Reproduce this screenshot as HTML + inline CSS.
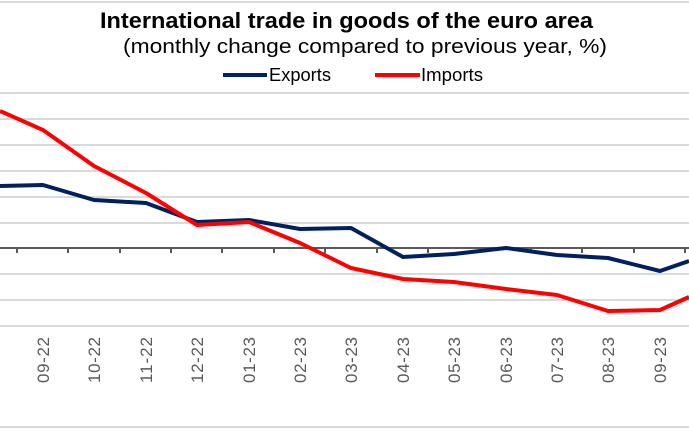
<!DOCTYPE html>
<html><head><meta charset="utf-8"><style>body{margin:0;background:#fff}</style></head><body>
<svg width="689" height="431" xmlns="http://www.w3.org/2000/svg" font-family="Liberation Sans, sans-serif">
<rect width="689" height="431" fill="#fff"/>
<line x1="0" y1="2" x2="689" y2="2" stroke="#d9d9d9" stroke-width="2"/>
<text x="100" y="28" font-size="22" font-weight="bold" textLength="493" lengthAdjust="spacingAndGlyphs">International trade in goods of the euro area</text>
<text x="123" y="53" font-size="20" textLength="484" lengthAdjust="spacingAndGlyphs">(monthly change compared to previous year, %)</text>
<line x1="223" y1="75" x2="267" y2="75" stroke="#002060" stroke-width="4"/>
<text x="269" y="81" font-size="18" textLength="62" lengthAdjust="spacingAndGlyphs">Exports</text>
<line x1="375" y1="75" x2="420" y2="75" stroke="#ff0000" stroke-width="4"/>
<text x="421" y="81" font-size="18" textLength="62" lengthAdjust="spacingAndGlyphs">Imports</text>
<g stroke="#d9d9d9" stroke-width="2">
<line x1="0" y1="93" x2="689" y2="93"/><line x1="0" y1="119" x2="689" y2="119"/><line x1="0" y1="145" x2="689" y2="145"/><line x1="0" y1="171" x2="689" y2="171"/><line x1="0" y1="197" x2="689" y2="197"/><line x1="0" y1="223" x2="689" y2="223"/><line x1="0" y1="274" x2="689" y2="274"/><line x1="0" y1="300" x2="689" y2="300"/><line x1="0" y1="326" x2="689" y2="326"/><line x1="0" y1="427" x2="689" y2="427"/>
</g>
<line x1="0" y1="248" x2="689" y2="248" stroke="#595959" stroke-width="2"/>
<g stroke="#595959" stroke-width="2">
<line x1="17" y1="248" x2="17" y2="253"/><line x1="68" y1="248" x2="68" y2="253"/><line x1="120" y1="248" x2="120" y2="253"/><line x1="171" y1="248" x2="171" y2="253"/><line x1="222" y1="248" x2="222" y2="253"/><line x1="274" y1="248" x2="274" y2="253"/><line x1="325" y1="248" x2="325" y2="253"/><line x1="377" y1="248" x2="377" y2="253"/><line x1="428" y1="248" x2="428" y2="253"/><line x1="480" y1="248" x2="480" y2="253"/><line x1="531" y1="248" x2="531" y2="253"/><line x1="582" y1="248" x2="582" y2="253"/><line x1="634" y1="248" x2="634" y2="253"/><line x1="685" y1="248" x2="685" y2="253"/>
</g>
<polyline fill="none" stroke="#002060" stroke-width="4" stroke-linejoin="round" points="0,186 43,185 94,200 146,203 197,222 249,220 300,229 351,228 403,257 454,254 506,248 557,255 608,258 660,271 689,261"/>
<polyline fill="none" stroke="#ff0000" stroke-width="4" stroke-linejoin="round" points="0,111 43,130 94,166 146,193 197,225 249,222 300,243 351,268 403,279 454,282 506,289 557,295 608,311 660,310 689,297"/>
<g font-size="17" fill="#595959" text-anchor="end">
<text transform="translate(49,337) rotate(-90)" textLength="46">09-22</text>
<text transform="translate(100,337) rotate(-90)" textLength="46">10-22</text>
<text transform="translate(152,337) rotate(-90)" textLength="46">11-22</text>
<text transform="translate(203,337) rotate(-90)" textLength="46">12-22</text>
<text transform="translate(255,337) rotate(-90)" textLength="46">01-23</text>
<text transform="translate(306,337) rotate(-90)" textLength="46">02-23</text>
<text transform="translate(357,337) rotate(-90)" textLength="46">03-23</text>
<text transform="translate(409,337) rotate(-90)" textLength="46">04-23</text>
<text transform="translate(460,337) rotate(-90)" textLength="46">05-23</text>
<text transform="translate(512,337) rotate(-90)" textLength="46">06-23</text>
<text transform="translate(563,337) rotate(-90)" textLength="46">07-23</text>
<text transform="translate(614,337) rotate(-90)" textLength="46">08-23</text>
<text transform="translate(666,337) rotate(-90)" textLength="46">09-23</text>
</g>
</svg>
</body></html>
